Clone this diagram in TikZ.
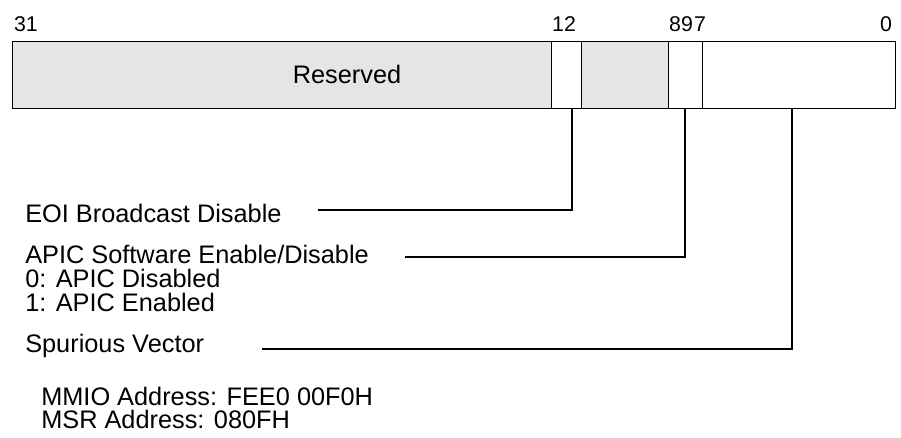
\documentclass[tikz,border=0pt]{standalone}
\usepackage{fontspec}
\setmainfont{Liberation Sans}
\begin{document}
\begin{tikzpicture}[x=0.75pt,y=0.75pt,yscale=-1,
    lbl/.style={anchor=west, inner sep=0pt, font=\fontsize{19}{22}\selectfont},
    num/.style={inner sep=0pt, font=\fontsize{16}{18}\selectfont},
    lead/.style={line width=0.8pt}]
    \useasboundingbox (0,0) rectangle (901,437);

    % register fields
    \draw [fill=black!10] (12,41) rectangle (551,108);
    \draw (551,41) rectangle (581,108);
    \draw [fill=black!10] (581,41) rectangle (668,108);
    \draw (668,41) rectangle (702,108);
    \draw (702,41) rectangle (895,108);
    \node [lbl, anchor=center] (res) at (347,74) {Reserved};

    % bit numbers
    \node [num] (b31) at (26,24) {31};
    \node [num] (b12) at (564,24) {12};
    \node [num] (b89) at (681,24) {89};
    \node [num] (b7) at (700,24) {7};
    \node [num] (b0) at (886,24) {0};

    % field labels
    \node [lbl] (eoi) at (25,213) {EOI Broadcast Disable};
    \node [lbl] (apic) at (25,254) {APIC Software Enable/Disable};
    \node [lbl] (a0) at (25,278) {0: APIC Disabled};
    \node [lbl] (a1) at (25,302) {1: APIC Enabled};
    \node [lbl] (spur) at (25,346) {Spurious Vector};
    \node [lbl] (mmio) at (41,396) {MMIO Address: FEE0 00F0H};
    \node [lbl] (msr) at (41,419) {MSR Address: 080FH};

    % leaders
    \coordinate (t12) at (572,108);
    \coordinate (t8) at (685,108);
    \coordinate (t0) at (792,108);
    \coordinate (e12) at (318,210);
    \coordinate (e8) at (405,257);
    \coordinate (e0) at (262,349);
    \draw [lead] (t12) |- (e12);
    \draw [lead] (t8) |- (e8);
    \draw [lead] (t0) |- (e0);
\end{tikzpicture}
\end{document}
